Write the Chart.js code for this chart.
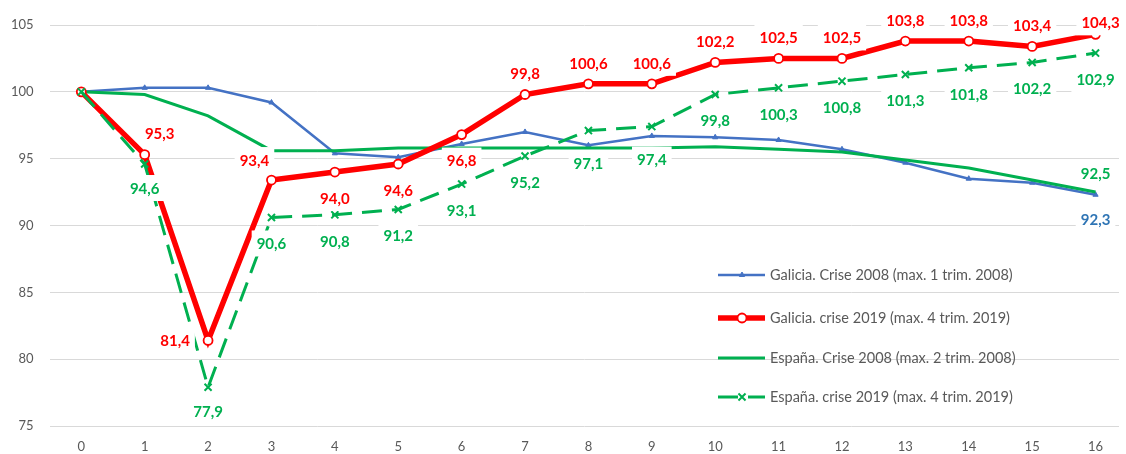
<!DOCTYPE html>
<html>
<head>
<meta charset="utf-8">
<script src="https://cdn.jsdelivr.net/npm/chart.js@4/dist/chart.umd.min.js"></script>
<style>
  html, body { margin: 0; padding: 0; background: #fff; overflow: hidden; }
  #wrap { width: 1126px; height: 454px; }
</style>
</head>
<body>
<div id="wrap"><canvas id="crisisChart" width="1126" height="454"></canvas></div>
<script>
// trimestres desde o máximo
const xLabels = [0, 1, 2, 3, 4, 5, 6, 7, 8, 9, 10, 11, 12, 13, 14, 15, 16];
const yTicks = [75, 80, 85, 90, 95, 100, 105];

const seriesNames = [
	"Galicia. Crise 2008 (max. 1 trim. 2008)",
	"Galicia. crise 2019 (max. 4 trim. 2019)",
	"España. Crise 2008 (max. 2 trim. 2008)",
	"España. crise 2019 (max. 4 trim. 2019)"
];

const galicia2008 = [100, 100.3, 100.3, 99.2, 95.4, 95.1, 96.1, 97.0, 96.0, 96.7, 96.6, 96.4, 95.7, 94.7, 93.5, 93.2, 92.3];
const galicia2019 = [100, 95.3, 81.4, 93.4, 94.0, 94.6, 96.8, 99.8, 100.6, 100.6, 102.2, 102.5, 102.5, 103.8, 103.8, 103.4, 104.3];
const espana2008 = [100, 99.8, 98.2, 95.6, 95.6, 95.8, 95.8, 95.8, 95.8, 95.8, 95.9, 95.7, 95.5, 94.9, 94.3, 93.4, 92.5];
const espana2019 = [100, 94.6, 77.9, 90.6, 90.8, 91.2, 93.1, 95.2, 97.1, 97.4, 99.8, 100.3, 100.8, 101.3, 101.8, 102.2, 102.9];

const BLUE = "#4472C4", RED = "#FF0000", GREEN = "#00B050";

// where each data label sits relative to its point (null = no label)
const LBL = {
	a: [0, -21], b: [0, 26], bb: [0, 33], l: [-33, 0], al: [-17, -20], ar: [15, -22], top: [5, -12], b2: [0, 24], a2: [0, -19]
};
const labelSpots = [
	[null, null, null, null, null, null, null, null, null, null, null, null, null, null, null, null, "b2"],
	[null, "ar", "l", "al", "b", "b", "b", "a", "a", "a", "a", "a", "a", "a", "a", "a", "top"],
	[null, null, null, null, null, null, null, null, null, null, null, null, null, null, null, null, "a2"],
	[null, "b2", "b2", "b", "b", "b", "b", "b", "bb", "bb", "b", "b", "b", "b", "b", "b", "b"]
];
const labelColors = ["#2F75B5", RED, GREEN, GREEN];

function toPoints(arr) {
	return arr.map(function(v, i) { return { x: xLabels[i], y: v }; });
}

const dataLabelPlugin = {
	id: "dataLabels",
	afterDatasetsDraw: function(chart) {
		const ctx = chart.ctx;
		ctx.save();
		ctx.font = "bold 15px Lato";
		ctx.textAlign = "center";
		ctx.textBaseline = "middle";
		chart.data.datasets.forEach(function(ds, di) {
			const meta = chart.getDatasetMeta(di);
			meta.data.forEach(function(pt, i) {
				const spot = labelSpots[di][i];
				if (!spot) return;
				const off = LBL[spot];
				const txt = ds.data[i].y.toFixed(1).replace(".", ",");
				const x = pt.x + off[0], y = pt.y + off[1];
				const w = ctx.measureText(txt).width + 10;
				ctx.fillStyle = "#fff";
				ctx.fillRect(x - w / 2, y - 13, w, 26);
				ctx.fillStyle = labelColors[di];
				ctx.fillText(txt, x, y + 1);
			});
		});
		ctx.restore();
	}
};

const legendPlugin = {
	id: "sideLegend",
	afterDraw: function(chart) {
		const ctx = chart.ctx;
		const rows = [275, 318, 358, 397];
		ctx.save();
		chart.data.datasets.forEach(function(ds, di) {
			const y = rows[di];
			ctx.strokeStyle = ds.borderColor;
			ctx.lineWidth = ds.borderWidth;
			ctx.setLineDash(ds.borderDash || []);
			ctx.beginPath();
			ctx.moveTo(718, y);
			ctx.lineTo(765, y);
			ctx.stroke();
			ctx.setLineDash([]);
			if (ds.pointRadius > 0) {
				ctx.fillStyle = ds.pointBackgroundColor;
				ctx.strokeStyle = ds.pointBorderColor;
				ctx.lineWidth = ds.pointBorderWidth;
				Chart.helpers.drawPoint(ctx, {
					pointStyle: ds.pointStyle, radius: ds.pointRadius, rotation: 0, borderWidth: ds.pointBorderWidth
				}, 742, y);
			}
			ctx.fillStyle = "#595959";
			ctx.font = "14.5px Lato";
			ctx.textAlign = "left";
			ctx.textBaseline = "middle";
			ctx.fillText(ds.label, 770, y);
		});
		ctx.restore();
	}
};

new Chart(document.getElementById("crisisChart").getContext("2d"), {
	type: "line",
	data: {
		datasets: [{
			label: seriesNames[0],
			data: toPoints(galicia2008),
			borderColor: BLUE,
			borderWidth: 2.5,
			pointStyle: "triangle",
			pointRadius: 3,
			pointBackgroundColor: BLUE,
			pointBorderColor: BLUE,
			pointBorderWidth: 1,
			order: 3
		}, {
			label: seriesNames[1],
			data: toPoints(galicia2019),
			borderColor: RED,
			borderWidth: 5.5,
			pointStyle: "circle",
			pointRadius: 4.5,
			pointBackgroundColor: "#fff",
			pointBorderColor: RED,
			pointBorderWidth: 1.8,
			order: 1
		}, {
			label: seriesNames[2],
			data: toPoints(espana2008),
			borderColor: GREEN,
			borderWidth: 3,
			pointRadius: 0,
			order: 2
		}, {
			label: seriesNames[3],
			data: toPoints(espana2019),
			borderColor: GREEN,
			borderWidth: 3,
			borderDash: [20, 10],
			pointStyle: "crossRot",
			pointRadius: 5,
			pointBackgroundColor: GREEN,
			pointBorderColor: GREEN,
			pointBorderWidth: 2,
			order: 0
		}]
	},
	options: {
		responsive: false,
		animation: false,
		tension: 0,
		layout: { padding: { top: 25, right: 0, bottom: 0, left: 0 } },
		plugins: {
			legend: { display: false },
			tooltip: { enabled: false }
		},
		scales: {
			x: {
				type: "linear",
				min: -0.5,
				max: 16.37,
				afterBuildTicks: function(scale) {
					scale.ticks = xLabels.map(function(v) { return { value: v }; });
				},
				afterFit: function(scale) { scale.height = 28; },
				grid: { display: false },
				border: { display: false },
				ticks: {
					autoSkip: false,
					maxRotation: 0,
					padding: 5,
					color: "#595959",
					font: { family: "Lato", size: 13 },
					callback: function(v) { return String(v); }
				}
			},
			y: {
				min: 75,
				max: 105,
				afterBuildTicks: function(scale) {
					scale.ticks = yTicks.map(function(v) { return { value: v }; });
				},
				afterFit: function(scale) { scale.width = 49.6; },
				grid: { color: "#d9d9d9", lineWidth: 1, drawTicks: false },
				border: { display: false },
				ticks: {
					padding: 16,
					color: "#595959",
					font: { family: "Lato", size: 13 }
				}
			}
		}
	},
	plugins: [dataLabelPlugin, legendPlugin]
});
</script>
</body>
</html>
